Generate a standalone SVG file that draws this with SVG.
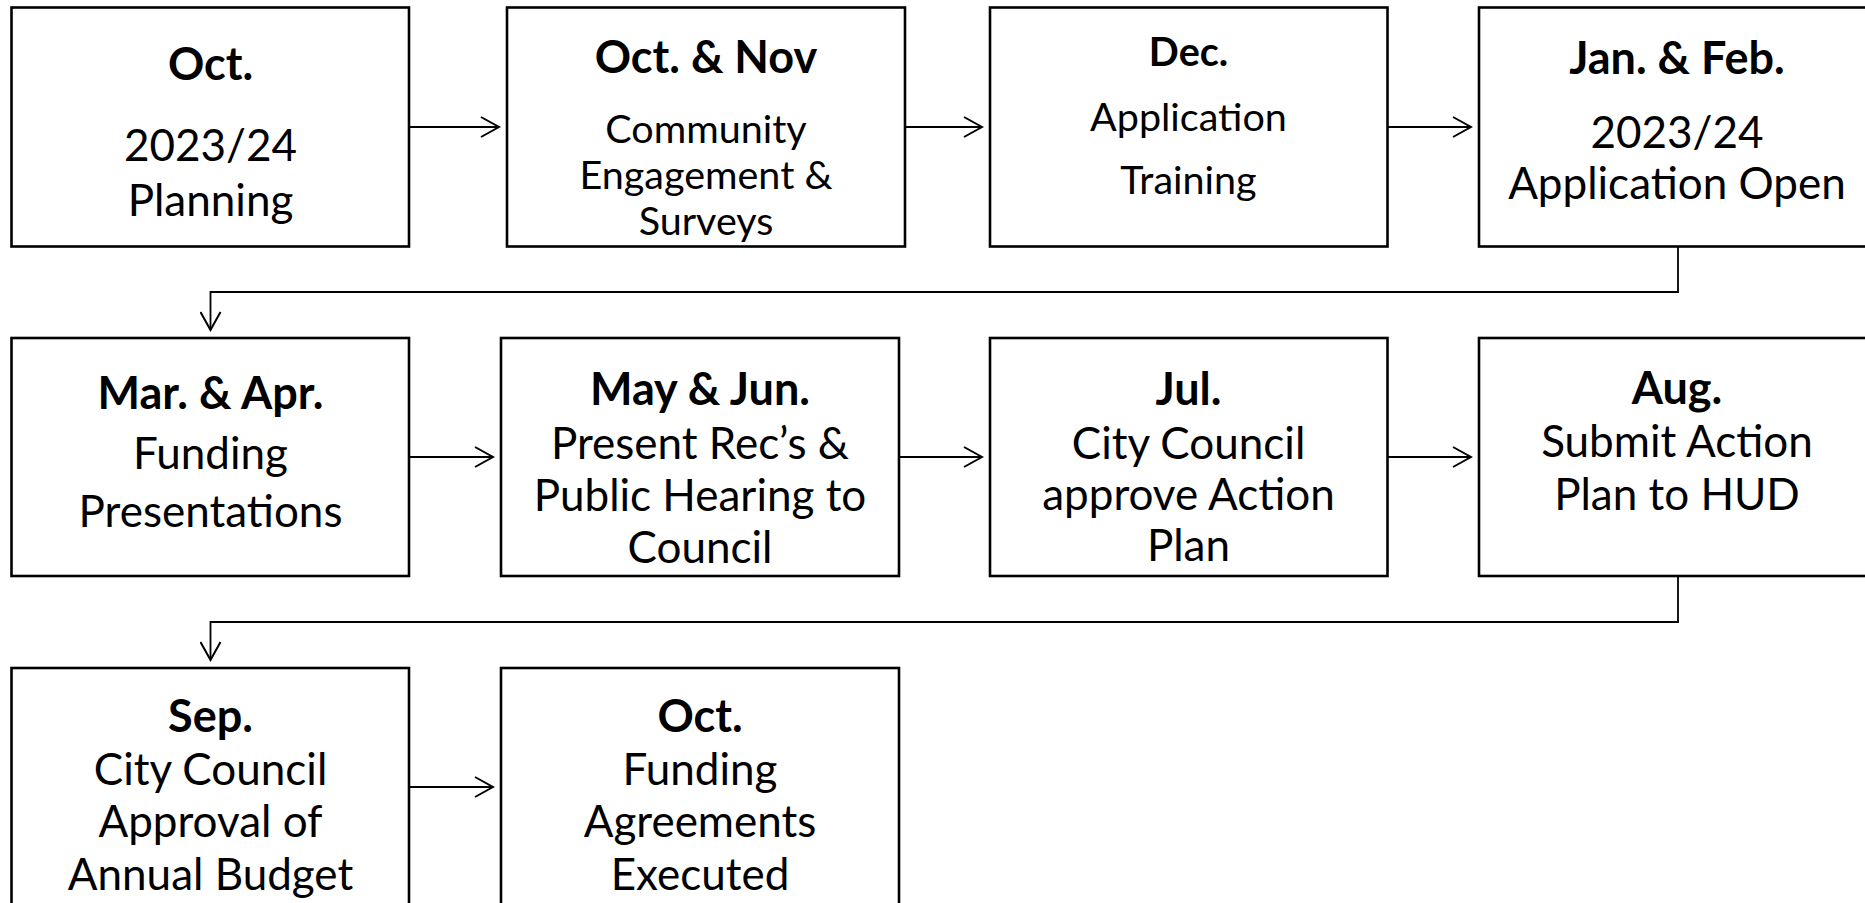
<svg xmlns="http://www.w3.org/2000/svg" width="1865" height="903" viewBox="0 0 1865 903">
<defs>
<style>
.box{fill:#fff;stroke:#000;stroke-width:2.6}
.t{font-family:Lato,"Liberation Sans",sans-serif;font-weight:bold;font-size:45px;fill:#000;text-anchor:middle}
.b{font-family:Lato,"Liberation Sans",sans-serif;font-size:44px;fill:#000;text-anchor:middle}
.s{font-size:39.5px}
.conn{fill:none;stroke:#000;stroke-width:1.8}
</style>
<marker id="arr" viewBox="0 0 22 22" refX="20" refY="11" markerWidth="22" markerHeight="22" markerUnits="userSpaceOnUse" orient="auto">
<path d="M2,1 L20,11 L2,21" fill="none" stroke="#000" stroke-width="2"/>
</marker>
</defs>
<rect width="1865" height="903" fill="#fff"/>
<g id="connectors">
<line class="conn" x1="409" y1="127" x2="499" y2="127" marker-end="url(#arr)"/>
<line class="conn" x1="905" y1="127" x2="982" y2="127" marker-end="url(#arr)"/>
<line class="conn" x1="1387" y1="127" x2="1471" y2="127" marker-end="url(#arr)"/>
<polyline class="conn" points="1678,246 1678,292 210.5,292 210.5,330" marker-end="url(#arr)"/>
<line class="conn" x1="409" y1="457" x2="493" y2="457" marker-end="url(#arr)"/>
<line class="conn" x1="899" y1="457" x2="982" y2="457" marker-end="url(#arr)"/>
<line class="conn" x1="1387" y1="457" x2="1471" y2="457" marker-end="url(#arr)"/>
<polyline class="conn" points="1678,576 1678,622 210.5,622 210.5,660" marker-end="url(#arr)"/>
<line class="conn" x1="409" y1="787" x2="493" y2="787" marker-end="url(#arr)"/>
</g>
<g id="n1">
<rect class="box" x="11.5" y="7.5" width="397.5" height="239"/>
<text class="t" x="210.5" y="80">Oct.</text>
<text class="b" x="210.5" y="161">2023/24</text>
<text class="b" x="210.5" y="216">Planning</text>
</g>
<g id="n2">
<rect class="box" x="507" y="7.5" width="398" height="239"/>
<text class="t" x="706" y="73">Oct. &amp; Nov</text>
<text class="b s" x="706" y="143">Community</text>
<text class="b s" x="706" y="189">Engagement &amp;</text>
<text class="b s" x="706" y="235">Surveys</text>
</g>
<g id="n3">
<rect class="box" x="990" y="7.5" width="397.5" height="239"/>
<text class="t s" x="1188.5" y="66">Dec.</text>
<text class="b s" x="1188.5" y="131">Application</text>
<text class="b s" x="1188.5" y="194">Training</text>
</g>
<g id="n4">
<rect class="box" x="1479" y="7.5" width="397" height="239"/>
<text class="t" x="1677" y="74">Jan. &amp; Feb.</text>
<text class="b" x="1677" y="148">2023/24</text>
<text class="b" x="1677" y="199">Application Open</text>
</g>
<g id="n5">
<rect class="box" x="11.5" y="338" width="397.5" height="238"/>
<text class="t" x="210.5" y="409">Mar. &amp; Apr.</text>
<text class="b" x="210.5" y="469">Funding</text>
<text class="b" x="210.5" y="527">Presentations</text>
</g>
<g id="n6">
<rect class="box" x="501" y="338" width="398" height="238"/>
<text class="t" x="700" y="405">May &amp; Jun.</text>
<text class="b" x="700" y="459">Present Rec’s &amp;</text>
<text class="b" x="700" y="511">Public Hearing to</text>
<text class="b" x="700" y="563">Council</text>
</g>
<g id="n7">
<rect class="box" x="990" y="338" width="397.5" height="238"/>
<text class="t" x="1188.5" y="405">Jul.</text>
<text class="b" x="1188.5" y="459">City Council</text>
<text class="b" x="1188.5" y="510">approve Action</text>
<text class="b" x="1188.5" y="561">Plan</text>
</g>
<g id="n8">
<rect class="box" x="1479" y="338" width="397" height="238"/>
<text class="t" x="1677" y="404">Aug.</text>
<text class="b" x="1677" y="457">Submit Action</text>
<text class="b" x="1677" y="510">Plan to HUD</text>
</g>
<g id="n9">
<rect class="box" x="11.5" y="668" width="397.5" height="240"/>
<text class="t" x="210.5" y="732">Sep.</text>
<text class="b" x="210.5" y="785">City Council</text>
<text class="b" x="210.5" y="837">Approval of</text>
<text class="b" x="210.5" y="890">Annual Budget</text>
</g>
<g id="n10">
<rect class="box" x="501" y="668" width="398" height="240"/>
<text class="t" x="700" y="732">Oct.</text>
<text class="b" x="700" y="785">Funding</text>
<text class="b" x="700" y="837">Agreements</text>
<text class="b" x="700" y="890">Executed</text>
</g>
</svg>
